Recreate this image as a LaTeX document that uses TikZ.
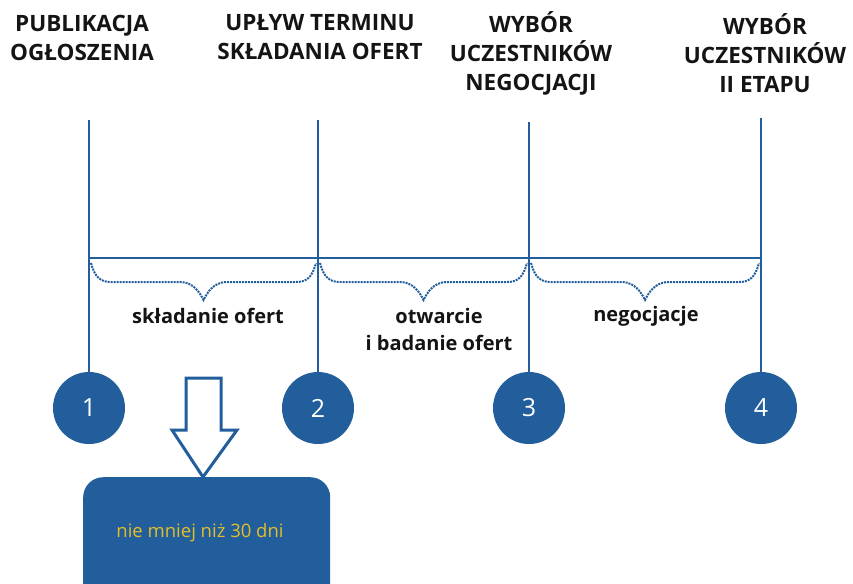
\documentclass[tikz,border=0pt]{standalone}
\usepackage{fontspec}
\setmainfont{Open Sans}
\usetikzlibrary{calc}
\definecolor{tlblue}{RGB}{33,94,155}
\definecolor{tlgold}{RGB}{226,190,40}
\definecolor{tltext}{RGB}{20,20,20}
\tikzset{
  heading/.style={font=\bfseries\fontsize{22.5}{29}\selectfont, text=tltext, align=center, inner sep=0pt},
  phase/.style={font=\bfseries\fontsize{20}{27}\selectfont, text=tltext, align=center, inner sep=0pt},
  milestone/.style={circle, fill=tlblue, minimum size=72pt, inner sep=0pt, text=white, font=\fontsize{25}{28}\selectfont},
  axis/.style={draw=tlblue, line width=2.3pt},
  bracepath/.style={draw=tlblue, line width=2pt, densely dotted},
}
% dotted curly brace hanging under the time axis between x=#1 and x=#2
\newcommand\phasebrace[2]{%
  \draw[bracepath] (#1+2,263)
    .. controls (#1+6,278) and (#1+12,282) .. (#1+22,282)
    -- ({(#1+#2)/2-22},282)
    .. controls ({(#1+#2)/2-10},283) and ({(#1+#2)/2-4},292) .. ({(#1+#2)/2},300)
    .. controls ({(#1+#2)/2+4},292) and ({(#1+#2)/2+10},283) .. ({(#1+#2)/2+22},282)
    -- (#2-22,282)
    .. controls (#2-12,282) and (#2-6,278) .. (#2-2,263);}
\begin{document}
\begin{tikzpicture}[x=1pt,y=-1pt]
\useasboundingbox (0,0) rectangle (853,583);
\clip (0,0) rectangle (853,583);

% headings
\node[heading] (h1) at (82,38) {PUBLIKACJA\\OGŁOSZENIA};
\node[heading] (h2) at (320,37) {UPŁYW TERMINU\\SKŁADANIA OFERT};
\node[heading] (h3) at (531,53) {WYBÓR\\UCZESTNIKÓW\\NEGOCJACJI};
\node[heading] (h4) at (765,53) {WYBÓR\\UCZESTNIKÓW\\II ETAPU};

% milestones
\node[milestone] (c1) at (89,408) {1};
\node[milestone] (c2) at (318,408) {2};
\node[milestone] (c3) at (529,408) {3};
\node[milestone] (c4) at (761,408) {4};

% tops of the milestone lines
\coordinate (t1) at (89,120);
\coordinate (t2) at (318,120);
\coordinate (t3) at (529,122);
\coordinate (t4) at (761,118);
\draw[axis] (t1) -- (c1.north);
\draw[axis] (t2) -- (c2.north);
\draw[axis] (t3) -- (c3.north);
\draw[axis] (t4) -- (c4.north);

% time axis
\coordinate (a1) at (89,258);
\coordinate (a4) at (761,258);
\draw[axis] (a1) -- (a4);

% phase braces and labels
\phasebrace{89}{318}
\phasebrace{318}{529}
\phasebrace{529}{761}
\node[phase] (p1) at (208,316) {składanie ofert};
\node[phase] (p2) at (439,329) {otwarcie\\i badanie ofert};
\node[phase] (p3) at (646,316) {negocjacje};

% duration box with hollow arrow above it
\node[fill=tlblue, rounded corners=20pt, minimum width=247pt, minimum height=130pt, inner sep=0pt,
      anchor=north west] (d) at (83,477) {};
\node[text=tlgold, font=\fontsize{18.5}{22}\selectfont, inner sep=0pt] (dl) at (200,533) {nie mniej niż 30 dni};
\draw[draw=tlblue, line width=3pt, line join=miter, fill=white]
  (186,378) -- (221,378) -- (221,430) -- (237,430) -- (d.north -| 203,0) -- (172,430) -- (186,430) -- cycle;
\end{tikzpicture}
\end{document}
